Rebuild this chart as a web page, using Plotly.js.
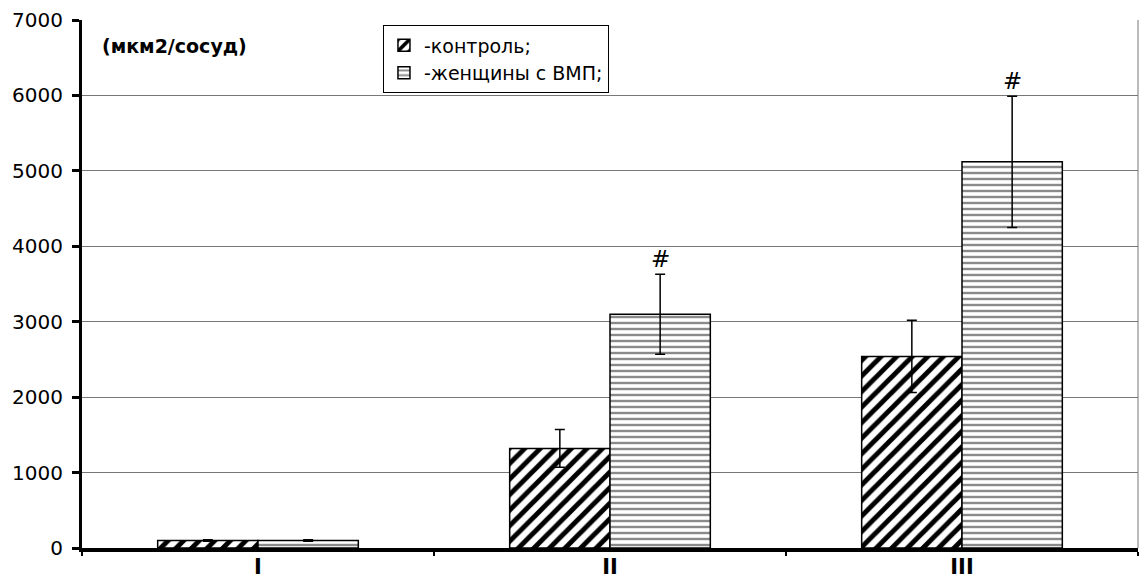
<!DOCTYPE html>
<html><head><meta charset="utf-8">
<script src="https://cdn.plot.ly/plotly-3.0.1.min.js"></script>
<style>body{margin:0;background:#fff}#c{width:1140px;height:582px}</style>
</head><body><div id="c"></div>
<script>
const categories = ["I", "II", "III"];
const controlValues = [100, 1320, 2540];
const controlErrors = [10, 250, 480];
const womenValues = [100, 3100, 5120];
const womenErrors = [10, 530, 870];
const seriesNames = ["-контроль;", "-женщины с ВМП;"];
const markLabel = ["", "#", "#"];
const yTicks = [0, 1000, 2000, 3000, 4000, 5000, 6000, 7000];

const font = "DejaVu Sans";
const traces = [
  {type: "bar", name: seriesNames[0], x: categories, y: controlValues,
   error_y: {type: "data", array: controlErrors, visible: true, color: "#000", thickness: 1.5, width: 5},
   marker: {color: "#fff", line: {color: "#000", width: 1.5},
            pattern: {shape: "/", fgcolor: "#000", bgcolor: "#fff", size: 11, solidity: 0.45}}},
  {type: "bar", name: seriesNames[1], x: categories, y: womenValues,
   error_y: {type: "data", array: womenErrors, visible: true, color: "#000", thickness: 1.5, width: 5},
   marker: {color: "#fff", line: {color: "#000", width: 1.5},
            pattern: {shape: "-", fgcolor: "#8a8a8a", bgcolor: "#fff", size: 6, solidity: 0.4}}}
];
const annotations = categories.map((c, i) => markLabel[i] ? {
  x: c, y: womenValues[i] + womenErrors[i], xref: "x", yref: "y", text: markLabel[i],
  showarrow: false, xshift: 50, yanchor: "bottom", yshift: 0,
  font: {family: font, size: 23, color: "#000"}} : null).filter(Boolean);
annotations.push({x: 0.017, y: 0.95, xref: "paper", yref: "paper", xanchor: "left", yanchor: "middle",
  text: "<b>(мкм2/сосуд)</b>", showarrow: false, font: {family: font, size: 19, color: "#000"}});

const layout = {
  width: 1140, height: 582,
  margin: {l: 82, r: 2, t: 20, b: 34},
  paper_bgcolor: "#fff", plot_bgcolor: "#fff",
  barmode: "group", bargap: 0.43, bargroupgap: 0,
  font: {family: font, color: "#000", size: 19},
  xaxis: {type: "category", tickson: "boundaries", ticks: "outside", ticklen: 4, tickwidth: 2, tickcolor: "#000",
          showline: true, linecolor: "#000", linewidth: 4, showgrid: false, ticklabelstandoff: -3,
          tickfont: {size: 21, weight: 700}},
  yaxis: {range: [0, 7000], tickvals: yTicks, ticks: "outside", ticklen: 7, tickwidth: 3, tickcolor: "#000",
          showline: true, linecolor: "#000", linewidth: 3, showgrid: true, gridcolor: "#777", gridwidth: 1,
          zeroline: false, ticklabelstandoff: 5, tickfont: {size: 20}},
  legend: {x: 0.285, y: 0.99, xanchor: "left", yanchor: "top", bordercolor: "#000", borderwidth: 1,
           bgcolor: "#fff", font: {size: 19}, itemwidth: 30, tracegroupgap: 0},
  annotations: annotations,
  shapes: [{type: "line", xref: "paper", yref: "paper", x0: 1, x1: 1, y0: 0, y1: 1, line: {color: "#777", width: 1}}]
};
Plotly.newPlot("c", traces, layout, {displayModeBar: false});
</script></body></html>
